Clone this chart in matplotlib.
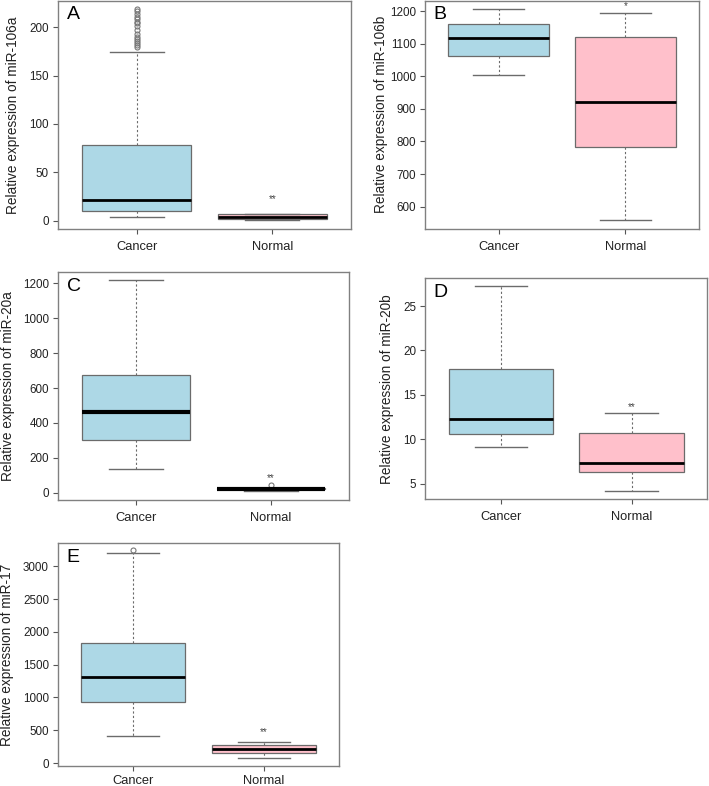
import matplotlib
matplotlib.use('Agg')
import matplotlib.pyplot as plt

plt.rcParams['font.family'] = ['Liberation Sans', 'DejaVu Sans']

groups = ['Cancer', 'Normal']
panel_letters = ['A', 'B', 'C', 'D', 'E']
ylabels = ['Relative expression of miR-106a', 'Relative expression of miR-106b',
           'Relative expression of miR-20a', 'Relative expression of miR-20b',
           'Relative expression of miR-17']

# five-number summaries per panel: [whislo, q1, med, q3, whishi] for Cancer, Normal
stats_106a = [[3.4, 10.0, 21.3, 78.0, 174.5], [0.6, 1.2, 3.8, 6.6, 7.2]]
stats_106b = [[1005, 1063, 1119, 1161, 1207], [558, 782, 921, 1121, 1195]]
stats_20a = [[136, 302, 460, 675, 1219], [10, 20, 23, 25, 28]]
stats_20b = [[9.1, 10.6, 12.3, 17.9, 27.2], [4.18, 6.28, 7.33, 10.74, 13.0]]
stats_17 = [[416, 926, 1307, 1835, 3198], [81, 148, 214, 275, 316]]

fliers_106a = [[219, 217, 214, 211, 209, 206, 204, 201, 197, 193, 190, 188, 186, 184, 182, 180], []]
fliers_106b = [[], []]
fliers_20a = [[], [42]]
fliers_20b = [[], []]
fliers_17 = [[3244], []]

# significance marks above Normal
star_text = ['**', '*', '**', '**', '**']
star_y = [22.7, 1217, 86, 13.67, 477]

yticks = [[0, 50, 100, 150, 200], [600, 700, 800, 900, 1000, 1100, 1200],
          [0, 200, 400, 600, 800, 1000, 1200], [5, 10, 15, 20, 25],
          [0, 500, 1000, 1500, 2000, 2500, 3000]]
ylims = [(-8.8, 227.8), (532, 1233), (-42, 1264), (3.24, 28.12), (-50, 3351)]

all_stats = [stats_106a, stats_106b, stats_20a, stats_20b, stats_17]
all_fliers = [fliers_106a, fliers_106b, fliers_20a, fliers_20b, fliers_17]

# axes boxes in pixels: left, right, top, bottom
W, H = 709, 786
boxes_px = [(58, 351, 0.5, 229), (425, 699, 0.5, 228.7), (58, 349, 272.3, 500),
            (425, 707.5, 278.3, 499.3), (58, 339, 543.3, 766.3)]
label_x = [-0.130, -0.135, -0.147, -0.111, -0.157]
xpad = [5, 5, 5, 5, 2.5]

fills = ['#ADD8E6', '#FFC0CB']
edge = '#6b6b6b'

fig = plt.figure(figsize=(W / 100, H / 100), dpi=100)

for i in range(5):
    l, r, t, b = boxes_px[i]
    ax = fig.add_axes([l / W, 1 - b / H, (r - l) / W, (b - t) / H])
    bxp_stats = []
    for j in range(2):
        lo, q1, med, q3, hi = all_stats[i][j]
        bxp_stats.append(dict(whislo=lo, q1=q1, med=med, q3=q3, whishi=hi,
                              fliers=all_fliers[i][j], label=groups[j]))
    med_lw = 3.0 if i == 2 else 2.0
    res = ax.bxp(bxp_stats, positions=[1, 2], widths=0.8, patch_artist=True,
                 boxprops=dict(edgecolor=edge, linewidth=0.9),
                 medianprops=dict(color='black', linewidth=med_lw),
                 whiskerprops=dict(color=edge, linewidth=0.8, linestyle=(0, (2, 2))),
                 capprops=dict(color=edge, linewidth=1.0), capwidths=0.4,
                 flierprops=dict(marker='o', markersize=3.6, markerfacecolor='none',
                                 markeredgecolor='#777777', markeredgewidth=0.8))
    for patch, c in zip(res['boxes'], fills):
        patch.set_facecolor(c)
    ax.set_xlim(0.42, 2.58)
    ax.set_ylim(*ylims[i])
    ax.set_yticks(yticks[i])
    ax.set_xticks([1, 2])
    ax.set_xticklabels(groups)
    ax.tick_params(axis='both', direction='out', length=3.6, width=0.8, color='#555555',
                   labelsize=8.4, labelcolor='#222222', pad=2.9)
    ax.tick_params(axis='x', labelsize=9.3, pad=xpad[i])
    for s in ax.spines.values():
        s.set_color('#808080')
        s.set_linewidth(1.0)
    ax.set_ylabel(ylabels[i], fontsize=9.8, color='#222222')
    ax.yaxis.set_label_coords(label_x[i], 0.5)
    ax.text(0.03, 0.975, panel_letters[i], transform=ax.transAxes, ha='left', va='top',
            fontsize=14, color='black')
    ax.text(2, star_y[i], star_text[i], ha='center', va='center', fontsize=7, color='#444444')

fig.savefig('out.png', dpi=100)
